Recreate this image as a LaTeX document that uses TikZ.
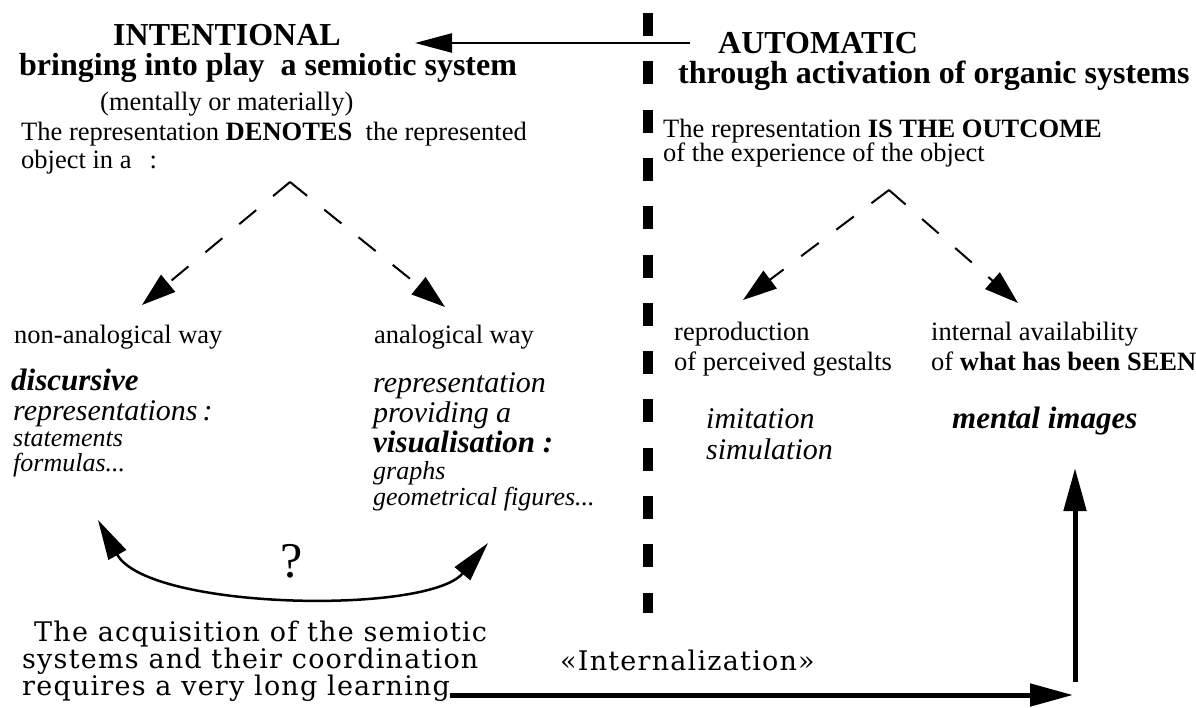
\documentclass[tikz,border=0pt]{standalone}
\usepackage{fontspec}
\setmainfont{Liberation Serif}
\newfontfamily\anchafont[LetterSpace=4.5]{DejaVu Serif}
\usetikzlibrary{arrows.meta}

\begin{document}
\begin{tikzpicture}[x=1pt,y=-1pt,
  txt/.style={anchor=base west,inner sep=0pt,font=\fontsize{26.5}{30}\selectfont},
  titulo/.style={anchor=base west,inner sep=0pt,font=\fontsize{32}{36}\selectfont\bfseries},
  cursiva/.style={anchor=base west,inner sep=0pt,font=\fontsize{30}{34}\selectfont\itshape},
  negrita/.style={anchor=base west,inner sep=0pt,font=\fontsize{31}{34}\selectfont\bfseries\itshape},
  ejemplo/.style={anchor=base west,inner sep=0pt,font=\fontsize{26}{30}\selectfont\itshape},
  ancho/.style={anchor=base west,inner sep=0pt,font=\anchafont\fontsize{27}{30}\selectfont},
  flecha/.style={line width=2.5pt,-{Triangle[length=37pt,width=19pt]}},
  guion/.style={line width=2pt,dash pattern=on 22pt off 22pt,-{Triangle[length=34pt,width=22pt]}},
  gruesa/.style={line width=5pt,-{Triangle[length=43pt,width=22pt]}},
  curva/.style={line width=2.5pt,{Triangle[length=40pt,width=20pt]}-{Triangle[length=40pt,width=20pt]}},
  separa/.style={line width=10.5pt,dash pattern=on 23pt off 25.3pt}]
  \useasboundingbox (0,0) rectangle (1196,707);
  %separacion
  \coordinate (sepA) at (648,13);
  \coordinate (sepB) at (648,613);
  \draw[separa] (sepA) -- (sepB);
  %lado intencional
  \node[titulo] (intent) at (113,45) {INTENTIONAL};
  \node[titulo] (bring) at (19,75) {bringing into play\ \ a semiotic system};
  \node[txt] (ment) at (100,110) {(mentally or materially)};
  \node[txt] (denote) at (21,140) {The representation \textbf{DENOTES}\ \ the represented};
  \node[txt] (objin) at (21,168) {object in a\hspace{18pt}:};
  %lado automatico
  \node[titulo] (auto) at (718,53) {AUTOMATIC};
  \node[titulo] (organic) at (678,83) {through activation of organic systems};
  \node[txt] (outcome) at (663,137) {The representation \textbf{IS THE OUTCOME}};
  \node[txt] (exper) at (663,161) {of the experience of the object};
  \coordinate (arrR) at (690,43);
  \coordinate (arrL) at (415,43);
  \draw[flecha] (arrR) -- (arrL);
  %ramas izquierda
  \coordinate (ltop) at (290,182);
  \coordinate (lnon) at (142,305);
  \coordinate (lana) at (445,307);
  \draw[guion] (ltop) -- (lnon);
  \draw[guion] (ltop) -- (lana);
  \node[txt] (nonan) at (14,343) {non-analogical way};
  \node[txt] (anal) at (374,343) {analogical way};
  %ramas derecha
  \coordinate (rtop) at (889,190);
  \coordinate (rrep) at (743,300);
  \coordinate (rint) at (1018,303);
  \draw[guion] (rtop) -- (rrep);
  \draw[guion] (rtop) -- (rint);
  \node[txt] (repro) at (674,340) {reproduction};
  \node[txt] (gestalt) at (674,370) {of perceived gestalts};
  \node[txt] (intav) at (931,340) {internal availability};
  \node[txt] (seen) at (931,370) {of \textbf{what has been SEEN}};
  %registros
  \node[negrita] (disc) at (11,390) {discursive};
  \node[cursiva] (reps) at (13,420) {representations\,:};
  \node[ejemplo] (stat) at (13,446) {statements};
  \node[ejemplo] (form) at (13,471) {formulas...};
  \node[cursiva] (repr) at (373,392) {representation};
  \node[cursiva] (prov) at (373,422) {providing a};
  \node[negrita] (visu) at (373,452) {visualisation :};
  \node[ejemplo] (graphs) at (373,479) {graphs};
  \node[ejemplo] (geo) at (373,505) {geometrical figures...};
  \node[cursiva] (imit) at (706,428) {imitation};
  \node[cursiva] (simu) at (706,459) {simulation};
  \node[negrita] (mental) at (952,428) {mental images};
  %coordinacion
  \coordinate (cl) at (98,520);
  \coordinate (cr) at (488,543);
  \draw[curva] (cl) .. controls (148,610) and (428,615) .. (cr);
  \node[anchor=base,inner sep=0pt,font=\fontsize{50}{50}\selectfont] (quest) at (292,577) {?};
  %aprendizaje
  \node[ancho] (acq1) at (34,641) {The acquisition of the semiotic};
  \node[ancho] (acq2) at (22,668) {systems and their coordination};
  \node[ancho] (acq3) at (22,695) {requires a very long learning};
  \node[ancho] (intern) at (560,670) {«Internalization»};
  \coordinate (botend) at (1073,695);
  \coordinate (vstart) at (1075,682);
  \coordinate (vend) at (1075,468);
  \draw[gruesa] (acq3.base east) -- (botend);
  \draw[gruesa] (vstart) -- (vend);
\end{tikzpicture}
\end{document}
